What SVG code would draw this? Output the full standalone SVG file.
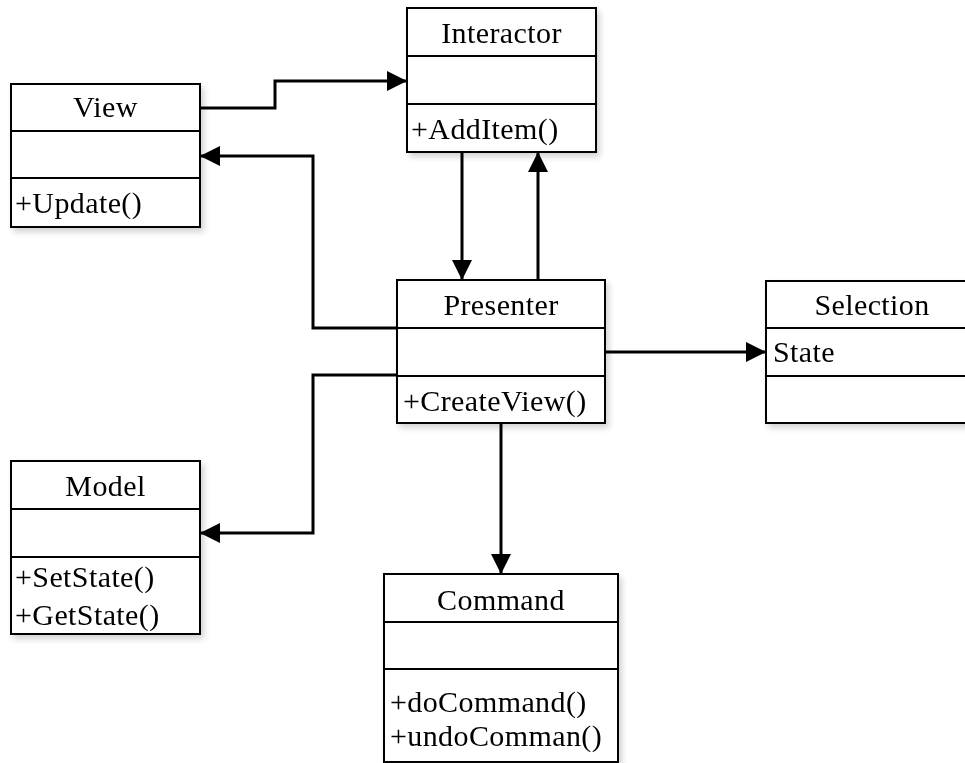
<svg xmlns="http://www.w3.org/2000/svg" width="965" height="763" viewBox="0 0 965 763">
  <defs>
    <marker id="arrow" markerUnits="userSpaceOnUse" markerWidth="20" markerHeight="20" viewBox="0 0 18 18" refX="18" refY="9" orient="auto">
      <path d="M0,0 L18,9 L0,18 Z" fill="#000"/>
    </marker>
    <filter id="shadow" x="-10%" y="-10%" width="130%" height="130%">
      <feGaussianBlur in="SourceAlpha" stdDeviation="3"/>
      <feOffset dx="3" dy="4" result="b"/>
      <feComponentTransfer><feFuncA type="linear" slope="0.18"/></feComponentTransfer>
      <feMerge><feMergeNode/><feMergeNode in="SourceGraphic"/></feMerge>
    </filter>
    <style>
      .box { fill: #fff; stroke: #000; stroke-width: 2; }
      .sep { stroke: #000; stroke-width: 2; }
      .title { font-family: "Liberation Serif", "Times New Roman", serif; font-size: 30px; letter-spacing: 0.4px; text-anchor: middle; fill: #000; }
      .member { font-family: "Liberation Serif", "Times New Roman", serif; font-size: 30px; letter-spacing: 0.4px; fill: #000; }
      .conn { fill: none; stroke: #000; stroke-width: 3; marker-end: url(#arrow); }
    </style>
  </defs>
  <rect width="965" height="763" fill="#fff"/>

  <g id="View" filter="url(#shadow)">
    <rect class="box" x="11" y="84" width="189" height="143"/>
    <line class="sep" x1="11" y1="131" x2="200" y2="131"/>
    <line class="sep" x1="11" y1="178" x2="200" y2="178"/>
    <text class="title" x="105.5" y="117">View</text>
    <text class="member" x="15" y="213">+Update()</text>
  </g>

  <g id="Interactor" filter="url(#shadow)">
    <rect class="box" x="407" y="8" width="189" height="144"/>
    <line class="sep" x1="407" y1="56" x2="596" y2="56"/>
    <line class="sep" x1="407" y1="104" x2="596" y2="104"/>
    <text class="title" x="501.5" y="43">Interactor</text>
    <text class="member" x="411" y="139">+AddItem()</text>
  </g>

  <g id="Presenter" filter="url(#shadow)">
    <rect class="box" x="397" y="280" width="208" height="143"/>
    <line class="sep" x1="397" y1="328" x2="605" y2="328"/>
    <line class="sep" x1="397" y1="376" x2="605" y2="376"/>
    <text class="title" x="501" y="315">Presenter</text>
    <text class="member" x="403" y="411">+CreateView()</text>
  </g>

  <g id="Selection" filter="url(#shadow)">
    <rect class="box" x="766" y="281" width="212" height="142"/>
    <line class="sep" x1="766" y1="328" x2="978" y2="328"/>
    <line class="sep" x1="766" y1="376" x2="978" y2="376"/>
    <text class="title" x="872" y="315">Selection</text>
    <text class="member" x="773" y="362">State</text>
  </g>

  <g id="Model" filter="url(#shadow)">
    <rect class="box" x="11" y="461" width="189" height="173"/>
    <line class="sep" x1="11" y1="509" x2="200" y2="509"/>
    <line class="sep" x1="11" y1="557" x2="200" y2="557" stroke-width="3"/>
    <text class="title" x="105.5" y="496">Model</text>
    <text class="member" x="15" y="587">+SetState()</text>
    <text class="member" x="15" y="625">+GetState()</text>
  </g>

  <g id="Command" filter="url(#shadow)">
    <rect class="box" x="384" y="574" width="234" height="188"/>
    <line class="sep" x1="384" y1="622" x2="618" y2="622"/>
    <line class="sep" x1="384" y1="669" x2="618" y2="669"/>
    <text class="title" x="501" y="610">Command</text>
    <text class="member" x="390" y="712">+doCommand()</text>
    <text class="member" x="390" y="746">+undoComman()</text>
  </g>

  <g id="connectors">
    <polyline class="conn" points="200,108 275,108 275,81 407,81"/>
    <polyline class="conn" points="397,328 313,328 313,156 200,156"/>
    <line class="conn" x1="462" y1="152" x2="462" y2="280"/>
    <line class="conn" x1="538" y1="280" x2="538" y2="152"/>
    <line class="conn" x1="605" y1="352" x2="766" y2="352"/>
    <polyline class="conn" points="397,375 313,375 313,533 200,533"/>
    <line class="conn" x1="501" y1="423" x2="501" y2="574"/>
  </g>
</svg>
